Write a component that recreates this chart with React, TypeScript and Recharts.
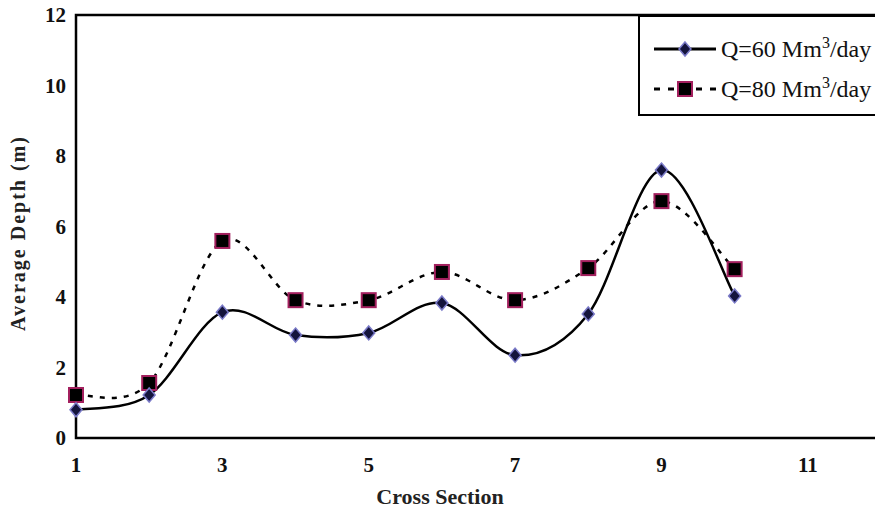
import { LineChart, Line, XAxis, YAxis, ReferenceArea } from 'recharts';

const sections = [1, 2, 3, 4, 5, 6, 7, 8, 9, 10];
const depthQ60 = [0.8, 1.22, 3.57, 2.92, 2.98, 3.83, 2.35, 3.52, 7.6, 4.03];
const depthQ80 = [1.22, 1.56, 5.59, 3.91, 3.91, 4.71, 3.91, 4.82, 6.72, 4.79];
const xTicks = [1, 3, 5, 7, 9, 11];
const yTicks = [0, 2, 4, 6, 8, 10, 12];

const data = sections.map((s, i) => ({ section: s, q60: depthQ60[i], q80: depthQ80[i] }));

const serif = "'Liberation Serif', Tinos, 'Times New Roman', serif";

// Excel-like smoothed line (catmull-rom style bezier)
const smoothCurve = (context: any) => {
  let pts: [number, number][] = [];
  return {
    areaStart() {},
    areaEnd() {},
    lineStart() {
      pts = [];
    },
    lineEnd() {
      if (!pts.length) return;
      context.moveTo(pts[0][0], pts[0][1]);
      for (let i = 0; i < pts.length - 1; i++) {
        const p0 = pts[i - 1] || pts[i];
        const p1 = pts[i];
        const p2 = pts[i + 1];
        const p3 = pts[i + 2] || p2;
        context.bezierCurveTo(
          p1[0] + (p2[0] - p0[0]) / 6,
          p1[1] + (p2[1] - p0[1]) / 6,
          p2[0] - (p3[0] - p1[0]) / 6,
          p2[1] - (p3[1] - p1[1]) / 6,
          p2[0],
          p2[1],
        );
      }
    },
    point(x: number, y: number) {
      pts.push([+x, +y]);
    },
  };
};

const Diamond = ({ cx, cy }: { cx: number; cy: number }) => (
  <path
    d={`M${cx},${cy - 7} L${cx + 6},${cy} L${cx},${cy + 7} L${cx - 6},${cy} Z`}
    fill="#14143c"
    stroke="#7a7ac8"
    strokeWidth={1.5}
  />
);

const Square = ({ cx, cy }: { cx: number; cy: number }) => (
  <rect x={cx - 7} y={cy - 7} width={14} height={14} fill="#000" stroke="#a3205e" strokeWidth={2} />
);

const tickStyle = { fontSize: 21, fontWeight: 700, fill: '#111', fontFamily: serif };

export default function App() {
  return (
    <div style={{ position: 'relative', width: 883, height: 512, margin: -8, background: '#fff', fontFamily: serif }}>
      <LineChart width={883} height={512} data={data} margin={{ top: 15, right: 2, bottom: 0, left: 16 }}>
        <XAxis
          dataKey="section"
          type="number"
          domain={[1, 12]}
          ticks={xTicks}
          tickLine={false}
          tickMargin={13}
          axisLine={{ stroke: '#000', strokeWidth: 2 }}
          tick={tickStyle}
          height={74}
        />
        <YAxis
          type="number"
          domain={[0, 12]}
          ticks={yTicks}
          tickLine={false}
          tickMargin={4}
          axisLine={{ stroke: '#000', strokeWidth: 2 }}
          tick={tickStyle}
          width={60}
        />
        <ReferenceArea x1={1} x2={12} y1={0} y2={12} fill="none" stroke="#000" strokeWidth={2.5} fillOpacity={0} />
        <Line
          dataKey="q80"
          type={smoothCurve as any}
          stroke="#000"
          strokeWidth={2.5}
          strokeDasharray="5 7"
          isAnimationActive={false}
          dot={(p: any) => <Square key={`s${p.index}`} cx={p.cx} cy={p.cy} />}
        />
        <Line
          dataKey="q60"
          type={smoothCurve as any}
          stroke="#000"
          strokeWidth={2.5}
          isAnimationActive={false}
          dot={(p: any) => <Diamond key={`d${p.index}`} cx={p.cx} cy={p.cy} />}
        />
      </LineChart>

      <div
        style={{
          position: 'absolute',
          left: 18,
          top: 233,
          transform: 'translate(-50%, -50%) rotate(-90deg)',
          whiteSpace: 'nowrap',
          fontSize: 20,
          fontWeight: 700,
          letterSpacing: 2,
          color: '#222',
        }}
      >
        Average Depth (m)
      </div>
      <div
        style={{
          position: 'absolute',
          left: 440,
          top: 497,
          transform: 'translate(-50%, -50%)',
          whiteSpace: 'nowrap',
          fontSize: 22,
          fontWeight: 700,
          color: '#222',
        }}
      >
        Cross Section
      </div>

      <div
        style={{
          position: 'absolute',
          left: 638,
          top: 15,
          width: 243,
          height: 101,
          boxSizing: 'border-box',
          border: '2px solid #000',
          background: '#fff',
          fontSize: 24,
          color: '#111',
        }}
      >
        <div style={{ position: 'absolute', left: 12, top: 18, display: 'flex', alignItems: 'center' }}>
          <svg width={66} height={20}>
            <line x1={2} y1={10} x2={64} y2={10} stroke="#000" strokeWidth={3} />
            <Diamond cx={33} cy={10} />
          </svg>
          <span style={{ marginLeft: 3, lineHeight: '28px' }}>
            Q=60 Mm<sup style={{ fontSize: 16, lineHeight: 0 }}>3</sup>/day
          </span>
        </div>
        <div style={{ position: 'absolute', left: 12, top: 58, display: 'flex', alignItems: 'center' }}>
          <svg width={66} height={20}>
            <line x1={2} y1={10} x2={64} y2={10} stroke="#000" strokeWidth={3} strokeDasharray="6 8" />
            <Square cx={33} cy={10} />
          </svg>
          <span style={{ marginLeft: 3, lineHeight: '28px' }}>
            Q=80 Mm<sup style={{ fontSize: 16, lineHeight: 0 }}>3</sup>/day
          </span>
        </div>
      </div>
    </div>
  );
}
